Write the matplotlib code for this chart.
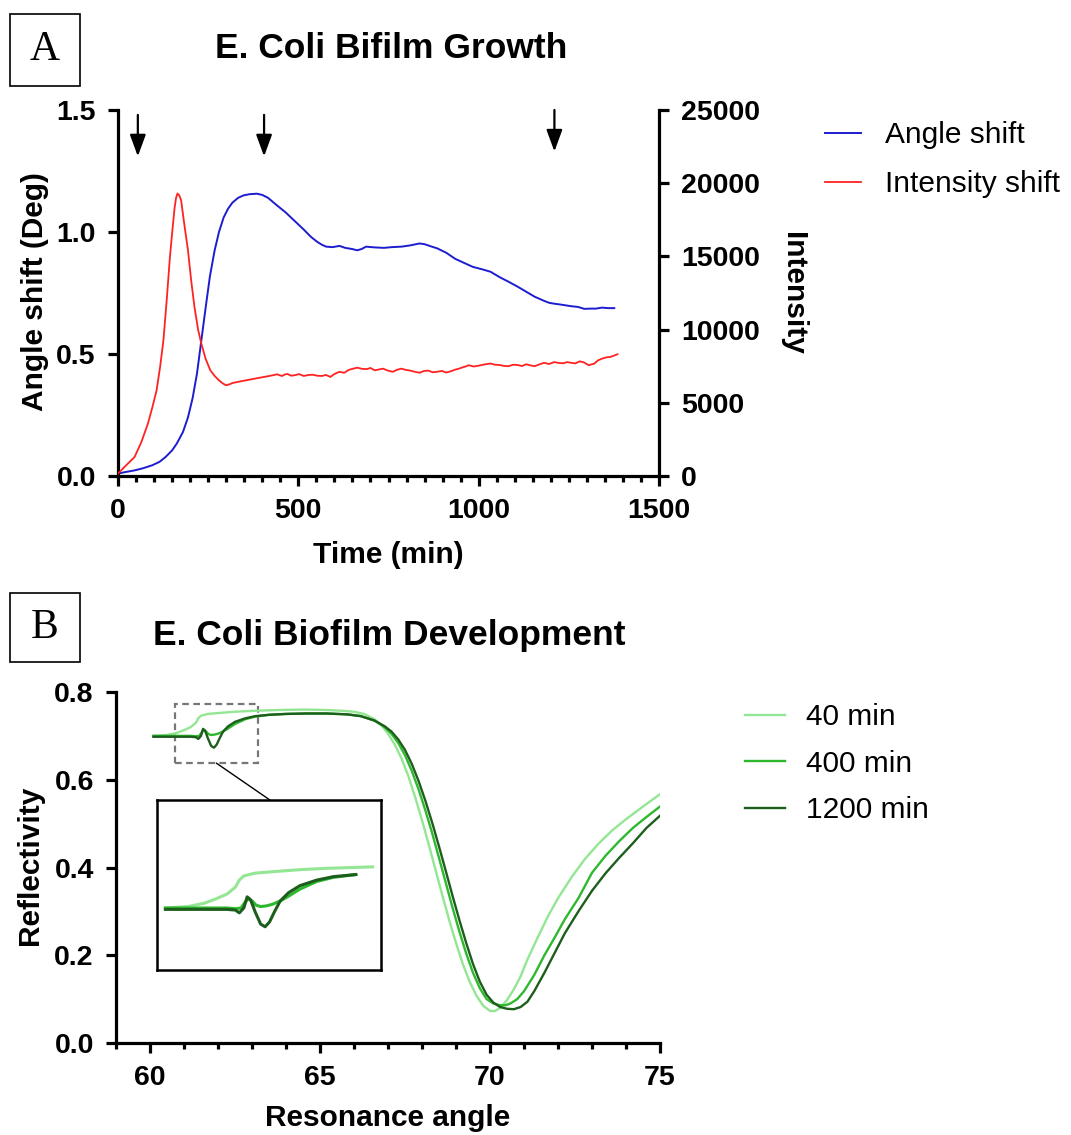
import numpy as np
import matplotlib
matplotlib.use("Agg")
import matplotlib.pyplot as plt
from matplotlib.patches import Rectangle, ConnectionPatch
from matplotlib.ticker import MultipleLocator

plt.rcParams['font.family'] = ['Liberation Sans', 'DejaVu Sans']

# ---- panel A data: angle shift (deg) and intensity vs time (min)
angle_t = [0, 20, 46, 70, 95, 115, 132, 150, 163, 180, 194, 207, 219, 231, 243, 255,
           268, 280, 293, 305, 317, 333, 348, 365, 385, 400, 416, 440, 465, 490, 515,
           535, 552, 565, 577, 595, 614, 630, 650, 663, 675, 688, 710, 737, 760, 786,
           810, 836, 850, 870, 885, 910, 935, 960, 984, 1010, 1033, 1058, 1083, 1108,
           1132, 1155, 1181, 1195, 1206, 1230, 1256, 1275, 1293, 1310, 1325, 1342,
           1360, 1376]
angle_shift = [0.010, 0.016, 0.023, 0.032, 0.044, 0.058, 0.078, 0.105, 0.133, 0.180,
               0.240, 0.320, 0.420, 0.555, 0.690, 0.820, 0.925, 1.000, 1.060, 1.095,
               1.120, 1.140, 1.150, 1.155, 1.157, 1.152, 1.140, 1.110, 1.080, 1.045,
               1.010, 0.980, 0.960, 0.948, 0.940, 0.938, 0.943, 0.935, 0.930, 0.925,
               0.930, 0.940, 0.937, 0.935, 0.938, 0.940, 0.945, 0.953, 0.950, 0.940,
               0.933, 0.915, 0.890, 0.873, 0.857, 0.847, 0.837, 0.815, 0.796, 0.776,
               0.755, 0.735, 0.718, 0.710, 0.707, 0.702, 0.696, 0.693, 0.685, 0.686,
               0.686, 0.690, 0.688, 0.688]

int_t = [0, 20, 46, 65, 83, 95, 107, 117, 126, 135, 144, 151, 157, 161, 165, 170, 175,
         184, 194, 203, 212, 222, 231, 243, 256, 268, 280, 290, 299, 308, 317, 340, 365,
         390, 416, 430, 441, 448, 455, 462, 470, 480, 490, 502, 515, 528, 540, 552, 565,
         577, 589, 600, 614, 627, 640, 652, 663, 677, 690, 700, 712, 724, 735, 748, 762,
         774, 786, 798, 810, 823, 836, 848, 860, 872, 885, 898, 910, 922, 935, 945, 955,
         964, 972, 986, 1000, 1016, 1033, 1045, 1058, 1070, 1083, 1095, 1108, 1120, 1132,
         1143, 1155, 1168, 1181, 1195, 1210, 1222, 1235, 1245, 1256, 1268, 1280, 1292,
         1305, 1312, 1320, 1331, 1342, 1353, 1365, 1375, 1385]
intensity = [167, 667, 1300, 2333, 3583, 4667, 5850, 7500, 9283, 12000, 14967, 16833,
             18333, 19000, 19300, 19167, 18833, 17167, 15417, 13333, 11550, 10000, 9050,
             8000, 7217, 6833, 6533, 6333, 6200, 6250, 6350, 6467, 6583, 6700, 6817,
             6883, 6950, 6880, 6833, 6930, 6967, 6850, 6883, 6960, 6833, 6900, 6917,
             6850, 6833, 6900, 6767, 6967, 7117, 7050, 7250, 7330, 7400, 7320, 7300,
             7380, 7217, 7280, 7333, 7200, 7117, 7260, 7333, 7250, 7200, 7120, 7050,
             7170, 7200, 7090, 7117, 7180, 7067, 7150, 7267, 7330, 7417, 7480, 7567,
             7480, 7533, 7620, 7683, 7600, 7583, 7520, 7500, 7600, 7583, 7510, 7633,
             7560, 7500, 7620, 7733, 7650, 7783, 7720, 7700, 7780, 7733, 7690, 7833,
             7760, 7567, 7620, 7667, 7900, 8017, 8100, 8133, 8220, 8317]

arrow_t = [55, 405, 1210]
arrow_top = [1.48, 1.48, 1.50]
arrow_tip = [1.31, 1.31, 1.33]

# ---- panel B data: SPR curves
a40 = [60.1, 60.5, 60.8, 61.0, 61.2, 61.35, 61.42, 61.5, 61.7, 62.0, 62.5, 63.0, 63.8,
       64.5, 65.2, 65.7, 66.0, 66.3, 66.6, 66.8, 67.0, 67.2, 67.4, 67.6, 67.8, 68.0,
       68.2, 68.4, 68.6, 68.8, 69.0, 69.2, 69.4, 69.6, 69.8, 70.0, 70.15, 70.3, 70.5,
       70.7, 70.9, 71.1, 71.4, 71.7, 72.0, 72.4, 72.8, 73.2, 73.6, 74.0, 74.5, 75.0]
r40 = [0.700, 0.702, 0.707, 0.713, 0.720, 0.730, 0.740, 0.746, 0.750, 0.752, 0.755,
       0.757, 0.759, 0.760, 0.759, 0.757, 0.755, 0.750, 0.738, 0.725, 0.705, 0.680,
       0.648, 0.608, 0.560, 0.508, 0.452, 0.394, 0.336, 0.280, 0.228, 0.180, 0.140,
       0.108, 0.085, 0.073, 0.073, 0.080, 0.098, 0.122, 0.152, 0.190, 0.240, 0.288,
       0.330, 0.378, 0.420, 0.455, 0.485, 0.510, 0.539, 0.567]

a400 = [60.1, 60.5, 60.9, 61.2, 61.35, 61.45, 61.52, 61.58, 61.65, 61.72, 61.8, 61.9,
        62.0, 62.15, 62.3, 62.5, 62.8, 63.1, 63.5, 64.0, 64.6, 65.2, 65.8, 66.2, 66.6,
        66.9, 67.1, 67.3, 67.5, 67.7, 67.9, 68.1, 68.3, 68.5, 68.7, 68.9, 69.1, 69.3,
        69.5, 69.7, 69.9, 70.1, 70.3, 70.45, 70.6, 70.8, 71.0, 71.3, 71.6, 71.9, 72.2,
        72.6, 73.0, 73.4, 73.8, 74.2, 74.6, 75.0]
r400 = [0.700, 0.700, 0.700, 0.700, 0.699, 0.700, 0.708, 0.713, 0.710, 0.704, 0.702,
        0.703, 0.705, 0.710, 0.717, 0.727, 0.738, 0.744, 0.748, 0.750, 0.751, 0.751,
        0.749, 0.745, 0.735, 0.720, 0.705, 0.684, 0.656, 0.620, 0.578, 0.530, 0.478,
        0.422, 0.365, 0.308, 0.254, 0.204, 0.160, 0.125, 0.100, 0.090, 0.086, 0.086,
        0.090, 0.100, 0.118, 0.155, 0.200, 0.240, 0.282, 0.330, 0.388, 0.427, 0.460,
        0.490, 0.515, 0.539]

a1200 = [60.1, 60.5, 60.9, 61.2, 61.35, 61.42, 61.5, 61.56, 61.62, 61.7, 61.8, 61.88,
         61.96, 62.05, 62.15, 62.3, 62.5, 62.8, 63.1, 63.5, 64.0, 64.6, 65.2, 65.8, 66.2,
         66.6, 66.9, 67.1, 67.3, 67.5, 67.7, 67.9, 68.1, 68.3, 68.5, 68.7, 68.9, 69.1,
         69.3, 69.5, 69.7, 69.9, 70.1, 70.3, 70.5, 70.7, 70.9, 71.1, 71.3, 71.6, 71.9,
         72.2, 72.6, 73.0, 73.4, 73.8, 74.2, 74.6, 75.0]
r1200 = [0.698, 0.698, 0.698, 0.698, 0.697, 0.693, 0.700, 0.716, 0.712, 0.695, 0.677,
         0.673, 0.680, 0.695, 0.710, 0.722, 0.732, 0.740, 0.745, 0.748, 0.750, 0.751,
         0.751, 0.749, 0.745, 0.735, 0.722, 0.710, 0.692, 0.668, 0.636, 0.597, 0.552,
         0.502, 0.448, 0.392, 0.335, 0.280, 0.228, 0.180, 0.140, 0.110, 0.092, 0.082,
         0.078, 0.077, 0.082, 0.094, 0.118, 0.160, 0.205, 0.250, 0.300, 0.347, 0.387,
         0.422, 0.455, 0.490, 0.518]

spr_labels = ['40 min', '400 min', '1200 min']
spr_colors = ['#93e693', '#2eb82e', '#1d5e1d']

TICK_FS = 20.5
LABEL_FS = 21.5
SPINE_W = 2.3


def style_axis(ax):
    for s in ['top', 'right']:
        ax.spines[s].set_visible(False)
    for s in ['left', 'bottom']:
        ax.spines[s].set_linewidth(SPINE_W)
    ax.tick_params(which='major', length=7, width=SPINE_W, labelsize=TICK_FS, pad=9)
    ax.tick_params(which='minor', length=4.5, width=SPINE_W)
    for lab in ax.get_xticklabels() + ax.get_yticklabels():
        lab.set_fontweight('bold')


fig = plt.figure(figsize=(10.71, 11.35), dpi=100)

# ================= panel A =================
axA = fig.add_axes([118 / 1071, 1 - 476 / 1135, 541 / 1071, 366 / 1135])
axA2 = axA.twinx()
lA1, = axA.plot(angle_t, angle_shift, color='#1c1cd0', lw=1.4, label='Angle shift')
lA2, = axA2.plot(int_t, intensity, color='#ff2222', lw=1.3, label='Intensity shift')

axA.set_xlim(0, 1500)
axA.set_ylim(0, 1.5)
axA2.set_ylim(0, 25000)
axA.set_xticks([0, 500, 1000, 1500])
axA.xaxis.set_minor_locator(MultipleLocator(50))
axA.set_yticks([0, 0.5, 1.0, 1.5])
axA.set_yticklabels(['0.0', '0.5', '1.0', '1.5'])
axA2.set_yticks([0, 5000, 10000, 15000, 20000, 25000])
style_axis(axA)
for s in ['top', 'left', 'bottom']:
    axA2.spines[s].set_visible(False)
axA2.spines['right'].set_linewidth(SPINE_W)
axA2.tick_params(which='major', length=7, width=SPINE_W, labelsize=TICK_FS, pad=9)
for lab in axA2.get_yticklabels():
    lab.set_fontweight('bold')

axA.set_xlabel('Time (min)', fontsize=LABEL_FS, fontweight='bold', va='center')
axA.xaxis.set_label_coords(0.5, -0.216)
axA.set_ylabel('Angle shift (Deg)', fontsize=LABEL_FS, fontweight='bold', va='center')
axA.yaxis.set_label_coords(-0.153, 0.503)
axA2.set_ylabel('Intensity', fontsize=LABEL_FS, fontweight='bold', rotation=-90,
                va='center')
axA2.yaxis.set_label_coords(1.248, 0.5)

for t, y0, y1 in zip(arrow_t, arrow_top, arrow_tip):
    axA.annotate('', xy=(t, y1), xytext=(t, y0), annotation_clip=False,
                 arrowprops=dict(arrowstyle='-|>,head_length=0.6,head_width=0.22',
                                 color='black', lw=1.6, mutation_scale=22,
                                 shrinkA=0, shrinkB=0))

fig.legend(handles=[lA1, lA2], loc='upper left',
           bbox_to_anchor=(825 / 1071, 1 - 121 / 1135),
           frameon=False, fontsize=21.5, handlelength=1.2, handletextpad=0.8,
           labelspacing=0.72, borderpad=0, borderaxespad=0)

fig.text(391 / 1071, 1 - 48 / 1135, 'E. Coli Bifilm Growth', fontsize=25.5,
         fontweight='bold', ha='center', va='center')

# ================= panel B =================
axB = fig.add_axes([116 / 1071, 1 - 1043 / 1135, 544 / 1071, 351 / 1135])
spr_a = [a40, a400, a1200]
spr_r = [r40, r400, r1200]
lines_B = []
for a, r, c, lab in zip(spr_a, spr_r, spr_colors, spr_labels):
    ln, = axB.plot(a, r, color=c, lw=1.7, label=lab)
    lines_B.append(ln)
axB.set_xlim(59, 75)
axB.set_ylim(0, 0.8)
axB.set_xticks([60, 65, 70, 75])
axB.xaxis.set_minor_locator(MultipleLocator(1))
axB.set_yticks([0, 0.2, 0.4, 0.6, 0.8])
axB.set_yticklabels(['0.0', '0.2', '0.4', '0.6', '0.8'])
style_axis(axB)
axB.set_xlabel('Resonance angle', fontsize=LABEL_FS, fontweight='bold', va='center')
axB.xaxis.set_label_coords(0.5, -0.214)
axB.set_ylabel('Reflectivity', fontsize=LABEL_FS, fontweight='bold', va='center')
axB.yaxis.set_label_coords(-0.158, 0.507)

# zoom box
zoom_x0, zoom_x1 = 60.74, 63.18
zoom_y0, zoom_y1 = 0.638, 0.773
axB.add_patch(Rectangle((zoom_x0, zoom_y0), zoom_x1 - zoom_x0, zoom_y1 - zoom_y0,
                        fill=False, ec='#777777', lw=1.6, ls=(0, (3, 2))))

# inset
axI = fig.add_axes([157 / 1071, 1 - 970 / 1135, 224 / 1071, 170 / 1135])
for a, r, c in zip(spr_a, spr_r, spr_colors):
    a = np.array(a)
    r = np.array(r)
    keep = a <= 63.8
    axI.plot(a[keep], r[keep], color=c, lw=2.2)
axI.set_xlim(59.95, 63.95)
axI.set_ylim(0.611, 0.855)
axI.set_xticks([])
axI.set_yticks([])
for s in axI.spines.values():
    s.set_linewidth(1.8)

con = ConnectionPatch(xyA=(61.95, zoom_y0), coordsA=axB.transData,
                      xyB=(0.504, 1.0), coordsB=axI.transAxes,
                      color='black', lw=1.0)
fig.add_artist(con)

fig.legend(handles=lines_B, loc='upper left',
           bbox_to_anchor=(745 / 1071, 1 - 703 / 1135),
           frameon=False, fontsize=21.5, handlelength=1.33, handletextpad=0.7,
           labelspacing=0.62, borderpad=0, borderaxespad=0)

fig.text(389 / 1071, 1 - 636 / 1135, 'E. Coli Biofilm Development', fontsize=25.5,
         fontweight='bold', ha='center', va='center')

# panel letters
for (y_top, y_bot, letter) in [(14, 86, 'A'), (593, 662, 'B')]:
    fig.add_artist(Rectangle((10 / 1071, 1 - y_bot / 1135), 70 / 1071,
                             (y_bot - y_top) / 1135, transform=fig.transFigure,
                             fill=False, ec='black', lw=1.2))
    fig.text(45 / 1071, 1 - (y_top + y_bot) / 2 / 1135, letter, fontsize=30,
             family='Liberation Serif', ha='center', va='center')

plt.savefig('out.png', dpi=100)
